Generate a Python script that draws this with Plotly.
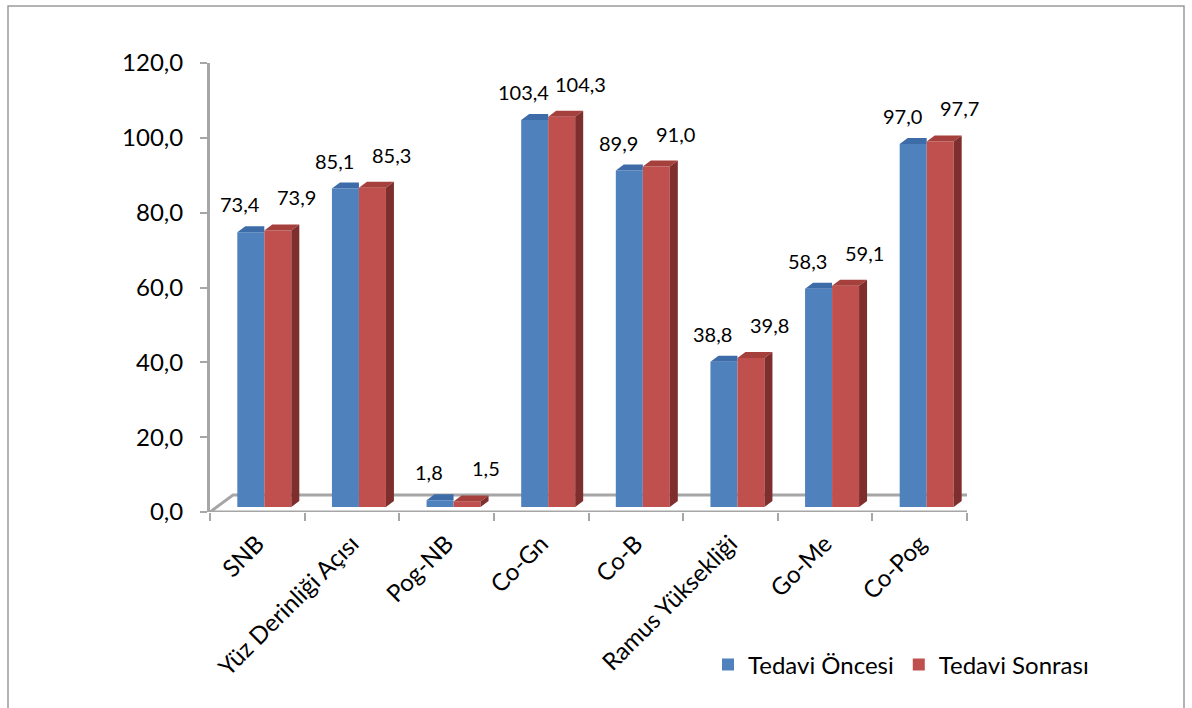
import plotly.graph_objects as go

# ---- data ----
categories = ["SNB", "Yüz Derinliği Açısı", "Pog-NB", "Co-Gn", "Co-B",
              "Ramus Yüksekliği", "Go-Me", "Co-Pog"]
before = [73.4, 85.1, 1.8, 103.4, 89.9, 38.8, 58.3, 97.0]
after = [73.9, 85.3, 1.5, 104.3, 91.0, 39.8, 59.1, 97.7]
y_ticks = [0, 20, 40, 60, 80, 100, 120]
series_names = ["Tedavi Öncesi", "Tedavi Sonrası"]

# ---- layout constants ----
W, H = 1192, 708
L, R, T, B = 210, 225, 63, 196
plot_w = W - L - R
plot_h = H - T - B
n = len(categories)
y_max = y_ticks[-1]
px_x = plot_w / n
px_y = plot_h / y_max


def ux(p):
    return p / px_x


def uy(p):
    return p / px_y


lift = uy(5)
shift = ux(7)
bw = ux(27)
ddx = ux(8)
ddy = uy(6)
fdx = ux(23)
fdy = uy(17)

BLUE, BLUE_TOP = "#4F81BD", "#3D6CA8"
RED, RED_TOP, RED_SIDE = "#C0504D", "#A5403D", "#7E2F2D"
GRID = "#A6A6A6"
FONT = "Lato"

idx = list(range(n))


def fmt(v):
    return f"{v:.1f}".replace(".", ",")


fig = go.Figure()

# front faces
fig.add_trace(go.Bar(x=idx, y=before, base=lift, offset=shift - bw, width=bw,
                     marker=dict(color=BLUE, line=dict(width=0)),
                     name=series_names[0]))
fig.add_trace(go.Bar(x=idx, y=after, base=lift, offset=shift, width=bw,
                     marker=dict(color=RED, line=dict(width=0)),
                     name=series_names[1]))

# top / side faces
bx, by = [], []
for i, v in zip(idx, before):
    x0, x1 = i + shift - bw, i + shift
    t = v + lift
    bx += [x0, x1, x1, x0 + ddx, x0, None]
    by += [t, t, t + ddy, t + ddy, t, None]
fig.add_trace(go.Scatter(x=bx, y=by, mode="lines", fill="toself", fillcolor=BLUE_TOP,
                         line=dict(width=0, color=BLUE_TOP), hoverinfo="skip",
                         showlegend=False))

rx, ry, sx, sy = [], [], [], []
for i, v in zip(idx, after):
    x0, x1 = i + shift, i + shift + bw
    t = v + lift
    rx += [x0, x1, x1 + ddx, x0 + ddx, x0, None]
    ry += [t, t, t + ddy, t + ddy, t, None]
    sx += [x1, x1, x1 + ddx, x1 + ddx, x1, None]
    sy += [lift, t, t + ddy, lift + ddy, lift, None]
fig.add_trace(go.Scatter(x=rx, y=ry, mode="lines", fill="toself", fillcolor=RED_TOP,
                         line=dict(width=0, color=RED_TOP), hoverinfo="skip",
                         showlegend=False))
fig.add_trace(go.Scatter(x=sx, y=sy, mode="lines", fill="toself", fillcolor=RED_SIDE,
                         line=dict(width=0, color=RED_SIDE), hoverinfo="skip",
                         showlegend=False))

# helper trace for boundary-tick axis
fig.add_trace(go.Scatter(x=[-0.5], y=[0], xaxis="x2", mode="markers",
                         marker=dict(opacity=0), hoverinfo="skip", showlegend=False))

# data labels
annotations = []
for i, v in zip(idx, before):
    annotations.append(dict(x=i + shift - bw / 2, y=v + lift, text=fmt(v), showarrow=False,
                            xshift=-11, yshift=28, xanchor="center", yanchor="middle",
                            font=dict(family=FONT, size=20, color="#000")))
for i, v in zip(idx, after):
    annotations.append(dict(x=i + shift + bw / 2, y=v + lift, text=fmt(v), showarrow=False,
                            xshift=19, yshift=33, xanchor="center", yanchor="middle",
                            font=dict(family=FONT, size=20, color="#000")))

shapes = [
    # floor
    dict(type="path", xref="x", yref="y", layer="below",
         path=f"M {-0.5},0 L {n - 0.5},0 L {n - 0.5 + fdx},{fdy} L {-0.5 + fdx},{fdy} Z",
         line=dict(color=GRID, width=3), fillcolor="rgba(0,0,0,0)"),
    # chart frame
    dict(type="rect", xref="paper", yref="paper", layer="below",
         x0=(8 - L) / plot_w, x1=(1184 - L) / plot_w,
         y0=(H - B - 720) / plot_h, y1=(H - B - 6) / plot_h,
         line=dict(color="#9A9A9A", width=1.5)),
]

fig.update_layout(
    width=W, height=H,
    margin=dict(l=L, r=R, t=T, b=B),
    paper_bgcolor="white", plot_bgcolor="white",
    separators=", ",
    barmode="overlay",
    font=dict(family=FONT, color="#000"),
    xaxis=dict(range=[-0.5, n - 0.5], tickmode="array", tickvals=idx, ticktext=categories,
               tickangle=-45, ticks="", showgrid=False, zeroline=False, showline=False,
               ticklabelstandoff=12,
               tickfont=dict(family=FONT, size=24, color="#000")),
    xaxis2=dict(range=[-0.5, n - 0.5], overlaying="x", anchor="y", side="bottom",
                tickmode="array", tickvals=[k - 0.5 for k in range(n + 1)],
                ticks="outside", ticklen=8, tickwidth=1.5, tickcolor=GRID,
                showticklabels=False, showgrid=False, zeroline=False, showline=False),
    yaxis=dict(range=[0, y_max], tickmode="array", tickvals=y_ticks, tickformat=".1f",
               showgrid=False, zeroline=False, showline=True, linecolor=GRID, linewidth=3,
               ticks="outside", ticklen=7, tickwidth=1.5, tickcolor=GRID,
               ticklabelstandoff=12,
               tickfont=dict(family=FONT, size=24, color="#000")),
    legend=dict(orientation="h", x=(708 - L) / plot_w, y=(H - B - 665) / plot_h,
                xanchor="left", yanchor="middle", bgcolor="rgba(0,0,0,0)",
                font=dict(family=FONT, size=24, color="#000")),
    annotations=annotations,
    shapes=shapes,
    showlegend=True,
)

fig.write_html("out.html")
